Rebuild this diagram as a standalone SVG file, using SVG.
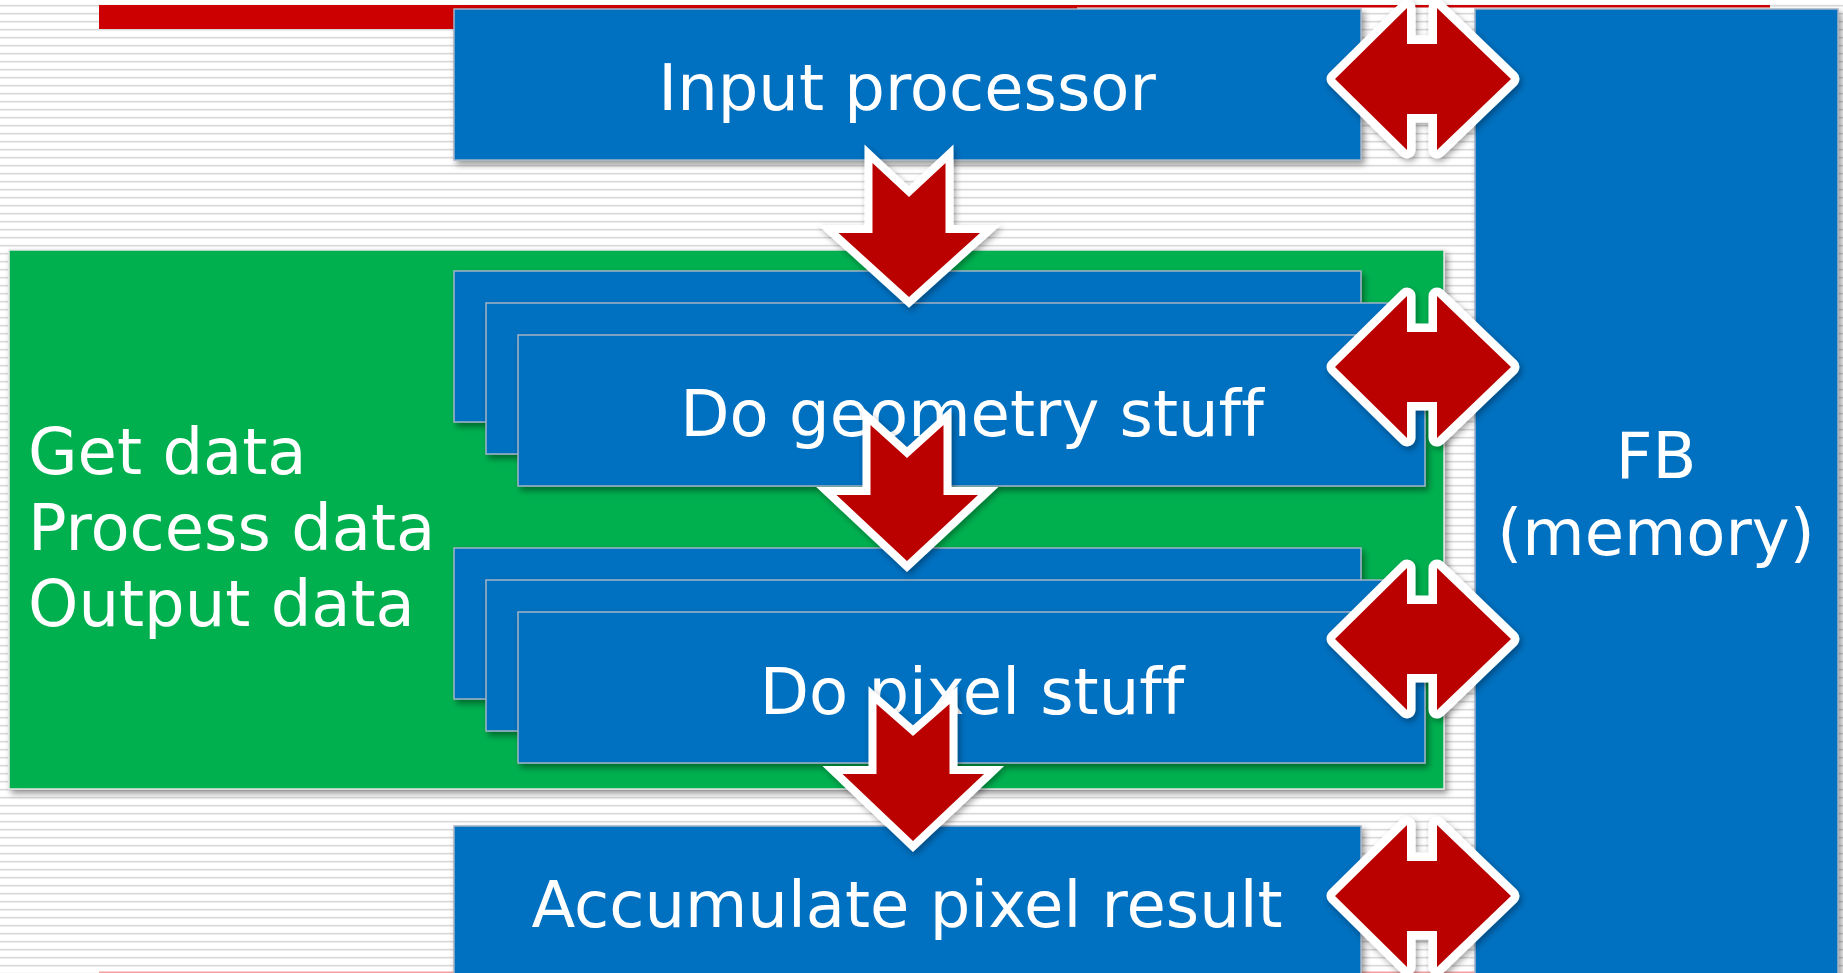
<svg xmlns="http://www.w3.org/2000/svg" width="1843" height="973" viewBox="0 0 1843 973">
<defs>
<pattern id="stripes" x="0" y="0" width="8" height="8" patternUnits="userSpaceOnUse">
<rect x="0" y="4.8" width="8" height="1.7" fill="#d9d9d9"/>
</pattern>
<filter id="sh" x="-10%" y="-10%" width="120%" height="130%">
<feDropShadow dx="3" dy="4" stdDeviation="3" flood-color="#000" flood-opacity="0.4"/>
</filter>
<filter id="ash" x="-20%" y="-20%" width="140%" height="140%">
<feDropShadow dx="2" dy="3" stdDeviation="3" flood-color="#000" flood-opacity="0.35"/>
</filter>
</defs>
<style>
.box{fill:#0070C0;stroke:#a3b3c6;stroke-width:1.5}
.green{fill:#00B050;stroke:#e6e6e6;stroke-width:1.5}
.t{font-family:"DejaVu Sans",Verdana,sans-serif;font-size:64px;fill:#ffffff;font-variant-ligatures:none}
.mid{text-anchor:middle}
.down{fill:#BB0000;stroke:#ffffff;stroke-width:16;stroke-linejoin:miter;stroke-miterlimit:4;paint-order:stroke fill}
.dbl{fill:#BB0000;stroke:#ffffff;stroke-width:17;stroke-linejoin:round;paint-order:stroke fill}
</style>
<rect x="0" y="0" width="1843" height="973" fill="#ffffff"/>
<rect x="0" y="0" width="1843" height="973" fill="url(#stripes)"/>
<rect x="99" y="5" width="978" height="24" fill="#CC0000"/>
<rect x="99" y="5" width="1671" height="2.5" fill="#CC0000"/>
<rect x="99" y="971.5" width="1400" height="1.5" fill="#f4a0a0"/>

<g id="green-stage">
<rect class="green" x="9" y="250" width="1435" height="539" filter="url(#sh)"/>
<text class="t" x="28" y="474">Get data</text>
<text class="t" x="28" y="550">Process data</text>
<text class="t" x="28" y="626">Output data</text>
</g>

<g id="fb">
<rect class="box" x="1475" y="9" width="363" height="980" filter="url(#sh)"/>
<text class="t mid" x="1656" y="478">FB</text>
<text class="t mid" x="1656" y="555">(memory)</text>
</g>

<g id="input-processor">
<rect class="box" x="454" y="9" width="907" height="151" filter="url(#sh)"/>
<text class="t mid" x="907" y="110">Input processor</text>
</g>

<g id="geometry">
<rect class="box" x="454" y="271" width="907" height="151" filter="url(#sh)"/>
<rect class="box" x="486" y="303" width="907" height="151" filter="url(#sh)"/>
<rect class="box" x="518" y="335" width="907" height="151" filter="url(#sh)"/>
<text class="t mid" x="972" y="436">Do geometry stuff</text>
</g>

<g id="pixel">
<rect class="box" x="454" y="548" width="907" height="151" filter="url(#sh)"/>
<rect class="box" x="486" y="580" width="907" height="151" filter="url(#sh)"/>
<rect class="box" x="518" y="612" width="907" height="151" filter="url(#sh)"/>
<text class="t mid" x="972" y="714">Do pixel stuff</text>
</g>

<g id="accumulate">
<rect class="box" x="454" y="826" width="907" height="160" filter="url(#sh)"/>
<text class="t mid" x="907" y="927">Accumulate pixel result</text>
</g>

<g id="connectors">
<g filter="url(#ash)">
<polygon class="down" points="872.5,163 909,197 945.5,163 945.5,233 980,233 909,297 838.5,233 872.5,233"/>
<polygon class="down" points="870.5,425 907,458 943.5,425 943.5,495 978,495 907,561 836.5,495 870.5,495"/>
<polygon class="down" points="876.5,704 913,736 949.5,704 949.5,774 984,774 913,841 842.5,774 876.5,774"/>
</g>
<g filter="url(#ash)">
<polygon class="dbl" points="1335,79 1407,8 1407,44 1437,44 1437,8 1511,79 1437,150 1437,114 1407,114 1407,150"/>
<polygon class="dbl" points="1335,367 1407,296 1407,332 1437,332 1437,296 1511,367 1437,438 1437,402 1407,402 1407,438"/>
<polygon class="dbl" points="1335,639 1407,568 1407,604 1437,604 1437,568 1511,639 1437,710 1437,674 1407,674 1407,710"/>
<polygon class="dbl" points="1335,896 1407,825 1407,861 1437,861 1437,825 1511,896 1437,967 1437,931 1407,931 1407,967"/>
</g>
</g>
</svg>
